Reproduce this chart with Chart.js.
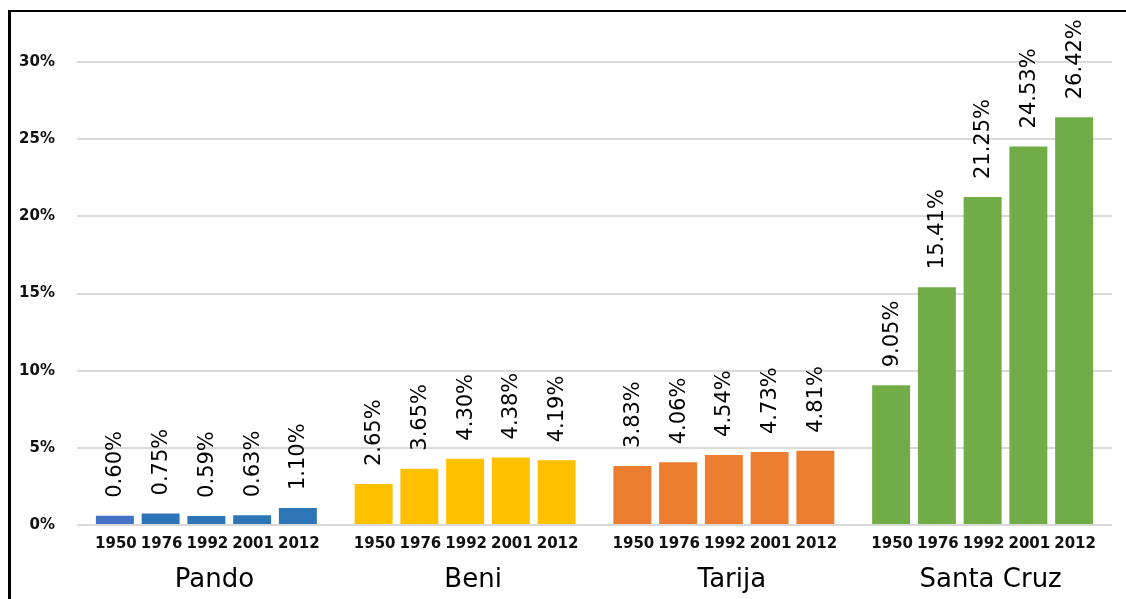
<!DOCTYPE html>
<html>
<head>
<meta charset="utf-8">
<script src="https://cdn.jsdelivr.net/npm/chart.js@4"></script>
<style>
  html, body { margin: 0; padding: 0; background: #fff; }
  #wrap { position: relative; width: 1126px; height: 599px; overflow: hidden; }
  #c { position: absolute; left: 0; top: 0; }
  .bl { position: absolute; left: 8px; top: 10px; width: 3px; height: 600px; background: #000; }
  .bt { position: absolute; left: 8px; top: 10px; width: 1118px; height: 2px; background: #000; }
</style>
</head>
<body>
<div id="wrap">
  <canvas id="c" width="1126" height="599"></canvas>
  <div class="bl"></div>
  <div class="bt"></div>
</div>
<script>
const groups = ['Pando', 'Beni', 'Tarija', 'Santa Cruz'];
const years = ['1950', '1976', '1992', '2001', '2012'];
const pando = [0.60, 0.75, 0.59, 0.63, 1.10];
const beni = [2.65, 3.65, 4.30, 4.38, 4.19];
const tarija = [3.83, 4.06, 4.54, 4.73, 4.81];
const santaCruz = [9.05, 15.41, 21.25, 24.53, 26.42];
const yTicks = [0, 5, 10, 15, 20, 25, 30];

const groupColors = [
  ['#4472C4', '#2E75B6', '#2E75B6', '#2E75B6', '#2E75B6'],
  ['#FFC000', '#FFC000', '#FFC000', '#FFC000', '#FFC000'],
  ['#ED7D31', '#ED7D31', '#ED7D31', '#ED7D31', '#ED7D31'],
  ['#70AD47', '#70AD47', '#70AD47', '#70AD47', '#70AD47']
];
const series = [pando, beni, tarija, santaCruz];

const datasets = years.map((yr, i) => ({
  label: yr,
  data: series.map(s => s[i]),
  backgroundColor: groupColors.map(g => g[i]),
  borderWidth: 0,
  barPercentage: 0.83,
  categoryPercentage: 0.884
}));

const labelPlugin = {
  id: 'labels',
  afterDatasetsDraw(chart) {
    const ctx = chart.ctx;
    const area = chart.chartArea;
    chart.data.datasets.forEach((ds, di) => {
      const meta = chart.getDatasetMeta(di);
      meta.data.forEach((bar, i) => {
        const v = ds.data[i];
        ctx.save();
        ctx.translate(bar.x, bar.y - 18);
        ctx.rotate(-Math.PI / 2);
        ctx.font = '21px "DejaVu Sans"';
        ctx.fillStyle = '#000';
        ctx.textAlign = 'left';
        ctx.textBaseline = 'middle';
        ctx.fillText(v.toFixed(2) + '%', 0, 1);
        ctx.restore();
        ctx.save();
        ctx.font = 'bold 15px "DejaVu Sans"';
        ctx.fillStyle = '#111';
        ctx.textAlign = 'center';
        ctx.textBaseline = 'middle';
        ctx.fillText(ds.label, bar.x + 1, area.bottom + 19);
        ctx.restore();
      });
    });
  }
};

new Chart(document.getElementById('c'), {
  type: 'bar',
  data: { labels: groups, datasets: datasets },
  options: {
    responsive: false,
    animation: false,
    layout: { padding: { top: 62, right: 14, left: 0, bottom: 0 } },
    plugins: { legend: { display: false }, tooltip: { enabled: false } },
    scales: {
      x: {
        grid: { display: false, drawTicks: false },
        border: { display: false },
        ticks: { font: { family: 'DejaVu Sans', size: 26 }, color: '#000', padding: 40, maxRotation: 0, labelOffset: 8 },
        afterFit(s) { s.height = 74; }
      },
      y: {
        min: 0, max: 30,
        afterBuildTicks(s) { s.ticks = yTicks.map(v => ({ value: v })); },
        grid: { color: '#d9d9d9', lineWidth: 2, drawTicks: false },
        border: { display: false },
        ticks: {
          font: { family: 'DejaVu Sans', size: 15, weight: 'bold' },
          color: '#111',
          padding: 22,
          callback: v => v + '%'
        },
        afterFit(s) { s.width = 77; }
      }
    }
  },
  plugins: [labelPlugin]
});
</script>
</body>
</html>
